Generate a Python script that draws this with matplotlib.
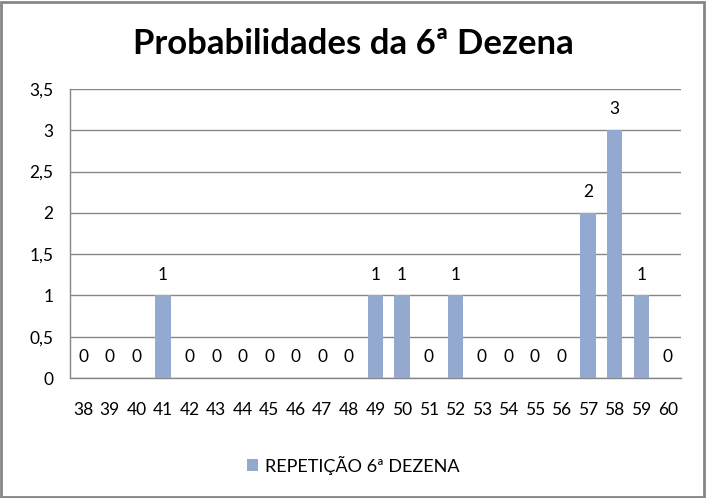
import matplotlib
matplotlib.use("Agg")
import matplotlib.pyplot as plt
from matplotlib.patches import Rectangle
from matplotlib.ticker import FuncFormatter

categories = [str(n) for n in range(38, 61)]
values = [0, 0, 0, 1, 0, 0, 0, 0, 0, 0, 0, 1, 1, 0, 1, 0, 0, 0, 0, 2, 3, 1, 0]
series_name = "REPETIÇÃO 6ª DEZENA"
title = "Probabilidades da 6ª Dezena"
y_ticks = [0, 0.5, 1, 1.5, 2, 2.5, 3, 3.5]

plt.rcParams['font.family'] = ['Lato', 'DejaVu Sans']

W, H = 706, 498
fig = plt.figure(figsize=(W / 100, H / 100), dpi=100)
fig.patch.set_facecolor('white')

left, right, top, bottom = 70, 681, 89, 378
ax = fig.add_axes([left / W, 1 - bottom / H, (right - left) / W, (bottom - top) / H])

x = list(range(len(categories)))
bars = ax.bar(x, values, width=0.575, color='#94A9D0', label=series_name, zorder=3)

for xi, v in zip(x, values):
    ax.annotate(str(v), (xi, v), xytext=(0, 15), textcoords='offset points',
                ha='center', va='center', fontsize=12.5, color='#000000')

ax.set_xlim(-0.5, len(categories) - 0.5)
ax.set_ylim(0, 3.5)
ax.set_yticks(y_ticks)
ax.yaxis.set_major_formatter(FuncFormatter(lambda v, p: f"{v:g}".replace('.', ',')))
ax.set_xticks(x)
ax.set_xticklabels(categories)
ax.tick_params(axis='y', length=0, pad=12, labelsize=12.5)
ax.tick_params(axis='x', length=0, pad=17, labelsize=12.5)
ax.grid(axis='y', color='#868686', linewidth=1, zorder=0)
for s in ['top', 'right']:
    ax.spines[s].set_visible(False)
for s in ['left', 'bottom']:
    ax.spines[s].set_color('#868686')
    ax.spines[s].set_linewidth(1)

fig.text(0.5, 1 - 44 / H, title, ha='center', va='center', fontsize=25, fontweight='bold')

handles, labels = ax.get_legend_handles_labels()
leg = fig.legend(handles, labels, loc='center', bbox_to_anchor=(0.5, 1 - 465 / H),
                 frameon=False, fontsize=13, handlelength=0.6, handleheight=0.6,
                 handletextpad=0.4)

fig.patches.append(Rectangle((1 / W, 1 / H), 1 - 3 / W, 1 - 3 / H, transform=fig.transFigure,
                             fill=False, edgecolor='#868686', linewidth=2))

fig.savefig('out.png', dpi=100)
